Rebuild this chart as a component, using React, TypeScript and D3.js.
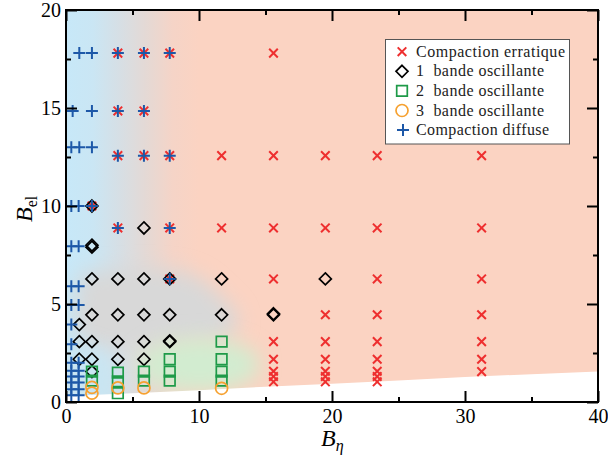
import React, { useEffect, useRef } from "react";
import * as d3 from "d3";

type Pt = [number, number];

// [B_eta, B_el] pairs
const erratique: Pt[] = [
	[3.9, 17.8], [5.86, 17.8], [7.8, 17.8], [15.6, 17.8],
	[3.9, 14.85], [5.86, 14.85],
	[3.9, 12.57], [5.86, 12.57], [7.8, 12.57], [11.7, 12.57], [15.6, 12.57], [19.5, 12.57], [23.4, 12.57], [31.25, 12.57],
	[1.95, 10],
	[3.9, 8.88], [7.8, 8.88], [11.7, 8.88], [15.6, 8.88], [19.5, 8.88], [23.4, 8.88], [31.25, 8.88],
	[7.8, 6.28], [15.6, 6.28], [23.4, 6.28], [31.25, 6.28],
	[19.5, 4.45], [23.4, 4.45], [31.25, 4.45],
	[15.6, 3.08], [19.5, 3.08], [23.4, 3.08], [31.25, 3.08],
	[15.6, 2.18], [19.5, 2.18], [23.4, 2.18], [31.25, 2.18],
	[15.6, 1.57], [19.5, 1.57], [23.4, 1.57], [31.25, 1.55],
	[15.6, 1.3], [19.5, 1.3], [23.4, 1.3],
	[15.6, 1.03], [19.5, 1.03], [23.4, 1.03],
];

const bande1: Pt[] = [
	[1.95, 10], [5.86, 8.88], [1.95, 7.9], [1.95, 8.0],
	[1.95, 6.28], [3.9, 6.28], [5.86, 6.28], [7.8, 6.28], [11.7, 6.28], [19.5, 6.28],
	[1.95, 4.45], [3.9, 4.45], [5.86, 4.45], [7.8, 4.45], [11.7, 4.45], [15.6, 4.45], [15.6, 4.5],
	[1.0, 3.95],
	[1.0, 3.08], [1.95, 3.08], [3.9, 3.08], [5.86, 3.08], [7.8, 3.08], [7.8, 3.12],
	[1.0, 2.18], [1.95, 2.18], [3.9, 2.18], [5.86, 2.18],
	[1.95, 1.55],
];

const bande2: Pt[] = [
	[1.95, 1.55], [1.95, 1.09],
	[3.9, 1.5], [3.9, 1.05], [3.9, 0.45],
	[5.86, 1.55], [5.86, 1.09],
	[7.8, 2.18], [7.8, 1.55], [7.8, 1.09],
	[11.7, 3.08], [11.7, 2.18], [11.7, 1.55], [11.7, 1.09],
];

const bande3: Pt[] = [
	[1.95, 0.75], [1.95, 0.45], [3.9, 0.72], [5.86, 0.72], [11.7, 0.7],
];

const diffuse: Pt[] = [
	[1.0, 17.8], [1.95, 17.8], [3.9, 17.8], [5.86, 17.8], [7.8, 17.8],
	[0.5, 14.85], [1.95, 14.85], [3.9, 14.85], [5.86, 14.85],
	[0.4, 13.0], [1.0, 13.0], [1.95, 13.0], [3.9, 12.57], [5.86, 12.57], [7.8, 12.57],
	[0.4, 10], [0.95, 10], [1.95, 10],
	[3.9, 8.88], [7.8, 8.88],
	[0.4, 7.95], [0.95, 7.95],
	[7.8, 6.28],
	[0.4, 5.9], [0.95, 5.9],
	[0.4, 4.95], [0.95, 4.95],
	[0.4, 3.95], [0.4, 2.95],
	[0.4, 2.0], [0.95, 2.0], [0.4, 1.6], [0.95, 1.6], [0.4, 1.3], [0.95, 1.3],
	[0.4, 1.0], [0.95, 1.0], [0.4, 0.65], [0.95, 0.65], [0.4, 0.35], [0.95, 0.35],
];

// lower edge of the coloured map (white below)
const boundary: Pt[] = [
	[0, 0.3], [5, 0.45], [10, 0.6], [15, 0.78], [20, 0.93], [25, 1.1], [30, 1.27], [35, 1.42], [40, 1.55],
];

// soft grey region of the background
const grayZone: Pt[] = [
	[1.2, 6.5], [3, 6.7], [7, 6.8], [9.5, 6.5], [11.5, 5.5], [13, 4.2], [12, 3.3], [8, 2.9], [3, 2.7], [1.2, 2.9],
];

const legendLabels = [
	"Compaction erratique",
	"1  bande oscillante",
	"2  bande oscillante",
	"3  bande oscillante",
	"Compaction diffuse",
];
const legendWidths = [149, 128, 128, 128, 133];

const xMajor = [0, 10, 20, 30, 40];
const xMinor = [5, 15, 25, 35];
const yMajor = [0, 5, 10, 15, 20];
const yMinor = [2.5, 7.5, 12.5, 17.5];

const RED = "#ee2f2f";
const GREEN = "#1e9a48";
const ORANGE = "#f6a130";
const BLUE = "#1d58a8";

const plusPath = (r: number) => `M${-r},0H${r}M0,${-r}V${r}`;
const timesPath = (r: number) => `M${-r},${-r}L${r},${r}M${-r},${r}L${r},${-r}`;
const diamondPath = (r: number) => `M0,${-r}L${r},0L0,${r}L${-r},0Z`;
const squarePath = (r: number) => `M${-r},${-r}H${r}V${r}H${-r}Z`;

export default function App() {
	const ref = useRef<SVGSVGElement>(null);

	useEffect(() => {
		const m = { left: 66, right: 598, top: 10, bottom: 402 };
		const font = "'Liberation Serif', 'Times New Roman', serif";

		const svg = d3.select(ref.current).html("");

		const x = d3.scaleLinear().domain([0, 40]).range([m.left, m.right]);
		const y = d3.scaleLinear().domain([0, 20]).range([m.bottom, m.top]);

		const defs = svg.append("defs");
		defs
			.append("clipPath")
			.attr("id", "plotClip")
			.append("rect")
			.attr("x", m.left)
			.attr("y", m.top)
			.attr("width", m.right - m.left)
			.attr("height", m.bottom - m.top);

		const grad = defs
			.append("linearGradient")
			.attr("id", "bgGrad")
			.attr("gradientUnits", "userSpaceOnUse")
			.attr("x1", x(0))
			.attr("x2", x(10))
			.attr("y1", 0)
			.attr("y2", 0);
		[
			[0, "#c7e8f8"],
			[0.2, "#cae6f4"],
			[0.4, "#d6dfe5"],
			[0.6, "#e4d9d5"],
			[0.8, "#f5d4c7"],
			[1, "#fbd3c2"],
		].forEach(([o, c]) => grad.append("stop").attr("offset", o).attr("stop-color", c));

		defs
			.append("filter")
			.attr("id", "soft")
			.attr("x", "-50%")
			.attr("y", "-50%")
			.attr("width", "200%")
			.attr("height", "200%")
			.append("feGaussianBlur")
			.attr("stdDeviation", 10);

		// Background map
		const bg = svg.append("g").attr("clip-path", "url(#plotClip)");
		bg.append("rect")
			.attr("x", m.left)
			.attr("y", m.top)
			.attr("width", m.right - m.left)
			.attr("height", m.bottom - m.top)
			.attr("fill", "url(#bgGrad)");

		const area = d3
			.line<Pt>()
			.x(d => x(d[0]))
			.y(d => y(d[1]))
			.curve(d3.curveCatmullRomClosed);

		bg.append("path")
			.attr("d", area(grayZone))
			.attr("fill", "#d8d8d8")
			.attr("filter", "url(#soft)");

		bg.append("ellipse")
			.attr("cx", x(10))
			.attr("cy", y(1.9))
			.attr("rx", x(4.6) - x(0))
			.attr("ry", y(0) - y(1.4))
			.attr("fill", "#d2ecd0")
			.attr("filter", "url(#soft)");

		bg.append("ellipse")
			.attr("cx", x(1))
			.attr("cy", y(1))
			.attr("rx", x(3) - x(0))
			.attr("ry", y(0) - y(1.8))
			.attr("fill", "#c9e5f2")
			.attr("filter", "url(#soft)");

		const lower: Pt[] = [...boundary, [40, 0], [0, 0]];
		bg.append("path")
			.attr("d", d3.line<Pt>().x(d => x(d[0])).y(d => y(d[1]))(lower) + "Z")
			.attr("fill", "#fff");

		// Markers
		const marks = svg.append("g").attr("clip-path", "url(#plotClip)");
		const drawSet = (data: Pt[], d: string, stroke: string, width: number) => {
			marks
				.append("g")
				.selectAll("path")
				.data(data)
				.join("path")
				.attr("transform", p => `translate(${x(p[0])},${y(p[1])})`)
				.attr("d", d)
				.attr("fill", "none")
				.attr("stroke", stroke)
				.attr("stroke-width", width);
		};
		drawSet(erratique, timesPath(4.3), RED, 2);
		drawSet(bande1, diamondPath(6), "#000", 1.7);
		drawSet(bande2, squarePath(5.3), GREEN, 1.7);
		marks
			.append("g")
			.selectAll("circle")
			.data(bande3)
			.join("circle")
			.attr("cx", p => x(p[0]))
			.attr("cy", p => y(p[1]))
			.attr("r", 6)
			.attr("fill", "none")
			.attr("stroke", ORANGE)
			.attr("stroke-width", 1.7);
		drawSet(diffuse, plusPath(6), BLUE, 2);

		// Axes: ticks point inward on all four sides
		const axisStyle = (g: d3.Selection<SVGGElement, unknown, null, undefined>) => {
			g.select(".domain").remove();
			g.selectAll(".tick line").attr("stroke", "#000").attr("stroke-width", 2);
			g.selectAll(".tick text").attr("fill", "#000").style("font-family", font).style("font-size", "20px");
		};

		svg.append("g")
			.attr("transform", `translate(0,${m.bottom})`)
			.call(d3.axisBottom(x).tickValues(xMajor).tickSize(-11).tickPadding(7).tickFormat(d3.format("d")))
			.call(axisStyle);
		svg.append("g")
			.attr("transform", `translate(0,${m.bottom})`)
			.call(d3.axisBottom(x).tickValues(xMinor).tickSize(-5).tickFormat(() => ""))
			.call(axisStyle);
		svg.append("g")
			.attr("transform", `translate(0,${m.top})`)
			.call(d3.axisTop(x).tickValues(xMajor).tickSize(-11).tickFormat(() => ""))
			.call(axisStyle);
		svg.append("g")
			.attr("transform", `translate(0,${m.top})`)
			.call(d3.axisTop(x).tickValues(xMinor).tickSize(-5).tickFormat(() => ""))
			.call(axisStyle);
		svg.append("g")
			.attr("transform", `translate(${m.left},0)`)
			.call(d3.axisLeft(y).tickValues(yMajor).tickSize(-11).tickPadding(5).tickFormat(d3.format("d")))
			.call(axisStyle);
		svg.append("g")
			.attr("transform", `translate(${m.left},0)`)
			.call(d3.axisLeft(y).tickValues(yMinor).tickSize(-5).tickFormat(() => ""))
			.call(axisStyle);
		svg.append("g")
			.attr("transform", `translate(${m.right},0)`)
			.call(d3.axisRight(y).tickValues(yMajor).tickSize(-11).tickFormat(() => ""))
			.call(axisStyle);
		svg.append("g")
			.attr("transform", `translate(${m.right},0)`)
			.call(d3.axisRight(y).tickValues(yMinor).tickSize(-5).tickFormat(() => ""))
			.call(axisStyle);

		// Frame
		svg.append("rect")
			.attr("x", m.left)
			.attr("y", m.top)
			.attr("width", m.right - m.left)
			.attr("height", m.bottom - m.top)
			.attr("fill", "none")
			.attr("stroke", "#000")
			.attr("stroke-width", 2);

		// Axis labels
		const xl = svg
			.append("text")
			.attr("x", (m.left + m.right) / 2 - 11)
			.attr("y", 446)
			.style("font-family", font)
			.style("font-size", "24px");
		xl.append("tspan").style("font-style", "italic").text("B");
		xl.append("tspan").attr("dy", 5).style("font-size", "16px").style("font-style", "italic").text("η");

		const yl = svg
			.append("text")
			.attr("transform", `translate(32,${222}) rotate(-90)`)
			.style("font-family", font)
			.style("font-size", "24px");
		yl.append("tspan").style("font-style", "italic").text("B");
		yl.append("tspan").attr("dy", 5).style("font-size", "16px").text("el");

		// Legend
		const lg = svg.append("g");
		lg.append("rect")
			.attr("x", 385.5)
			.attr("y", 39.5)
			.attr("width", 184)
			.attr("height", 104.5)
			.attr("fill", "#fff")
			.attr("stroke", "#555")
			.attr("stroke-width", 1);

		const ly = (i: number) => 51.7 + i * 19.6;
		const sx = 402;
		lg.append("path").attr("transform", `translate(${sx},${ly(0)})`).attr("d", timesPath(4.3)).attr("stroke", RED).attr("stroke-width", 2).attr("fill", "none");
		lg.append("path").attr("transform", `translate(${sx},${ly(1)})`).attr("d", diamondPath(6)).attr("stroke", "#000").attr("stroke-width", 1.7).attr("fill", "none");
		lg.append("path").attr("transform", `translate(${sx},${ly(2)})`).attr("d", squarePath(5.3)).attr("stroke", GREEN).attr("stroke-width", 1.7).attr("fill", "none");
		lg.append("circle").attr("cx", sx).attr("cy", ly(3)).attr("r", 6).attr("stroke", ORANGE).attr("stroke-width", 1.7).attr("fill", "none");
		lg.append("path").attr("transform", `translate(${sx + 1},${ly(4)})`).attr("d", plusPath(6)).attr("stroke", BLUE).attr("stroke-width", 2).attr("fill", "none");

		lg.selectAll("text.lab")
			.data(legendLabels)
			.join("text")
			.attr("class", "lab")
			.attr("x", 416)
			.attr("y", (_, i) => ly(i) + 5)
			.attr("textLength", (_, i) => legendWidths[i])
			.attr("lengthAdjust", "spacing")
			.style("white-space", "pre")
			.style("font-family", font)
			.style("font-size", "16px")
			.attr("fill", "#222")
			.text(d => d);
	}, []);

	return (
		<svg
			ref={ref}
			width={608}
			height={456}
			style={{ position: "absolute", left: 0, top: 0, background: "#fff" }}
		/>
	);
}
